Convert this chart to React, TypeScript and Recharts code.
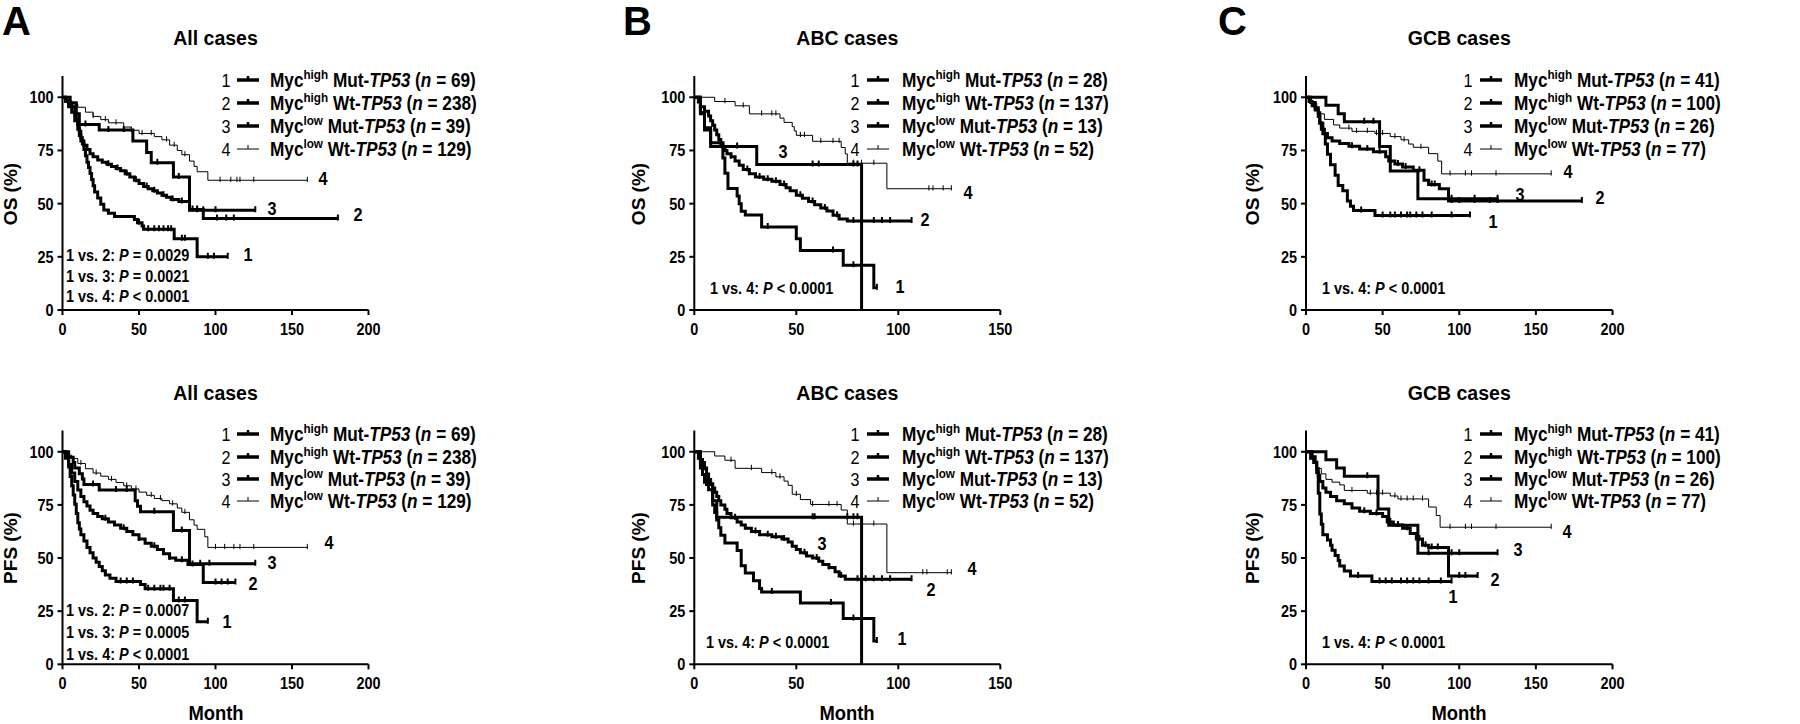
import React from 'react';
import { ComposedChart, Line, XAxis, YAxis } from 'recharts';

type Pt = [number, number];

const FONT = '"Liberation Sans", Arial, Helvetica, sans-serif';

// axis ticks
const ticks200 = [0, 50, 100, 150, 200];
const ticks150 = [0, 50, 100, 150];
const yTicks = [0, 25, 50, 75, 100];

// legend pieces and group sizes
const legendSup = ['high', 'high', 'low', 'low'];
const legendPrefix = ['Mut-', 'Wt-', 'Mut-', 'Wt-'];
const nAll = [69, 238, 39, 129];
const nAbc = [28, 137, 13, 52];
const nGcb = [41, 100, 26, 77];

// ---- OS, all cases ---- [month, survival %]
const osAll1: Pt[] = [[0, 100], [2, 98.5], [4, 97], [6, 95.5], [8, 92.5], [9, 89.8], [10, 87], [11, 84], [12, 81], [13, 78], [14, 75.4], [15, 72.5], [16, 69.5], [17, 67], [18, 64.2], [19, 61.3], [20, 58.4], [21, 55.5], [23, 52.6], [25, 49.7], [27, 47], [30, 45.5], [34, 44], [47, 42.5], [49, 41], [52, 39.5], [53, 38], [73, 33.5], [88, 25], [108, 25]];
const osAll1C = [50, 56, 60, 63, 66, 69, 71, 78, 80, 95, 99, 108];
const osAll2: Pt[] = [[0, 100], [2, 98], [4, 95.5], [6, 93], [8, 89], [10, 85], [11, 82], [12, 79.5], [14, 77.5], [16, 75.5], [18, 73.5], [20, 72], [23, 70.5], [26, 69.5], [29, 68.5], [32, 67.5], [35, 66.5], [38, 65.5], [41, 64], [44, 62.5], [47, 61], [50, 59.5], [53, 58], [56, 57], [59, 56], [62, 55], [65, 54], [68, 53], [71, 52], [76, 51], [83, 47.3], [92, 43], [180, 43]];
const osAll2C = [30, 36, 42, 48, 55, 60, 66, 72, 78, 85, 88, 101, 107, 112, 180];
const osAll3: Pt[] = [[0, 100], [5, 97.4], [9, 92.3], [11, 87.2], [24, 84.6], [46, 79.5], [55, 74], [58, 69.2], [72.5, 62.5], [83, 46.9], [126, 46.9]];
const osAll3C = [15, 30, 40, 62, 76, 88, 92, 100, 126];
const osAll4: Pt[] = [[0, 100], [3, 98.4], [6, 96.9], [10, 95.3], [15, 93], [20, 91], [25, 89.5], [30, 88], [40, 86], [45, 84.5], [50, 83], [60, 81.5], [65, 80], [70, 77.5], [75, 75], [78, 73], [83, 70], [86, 67.5], [88, 65], [95, 61], [160, 61]];
const osAll4C = [20, 28, 35, 45, 52, 58, 68, 73, 80, 103, 110, 114, 116, 125, 160];

// ---- PFS, all cases ----
const pfsAll1: Pt[] = [[0, 100], [2, 97], [4, 92.8], [5, 88.4], [6, 84], [7, 79.7], [8, 75.3], [9, 70.9], [10, 66.6], [11, 63.6], [12, 61], [14, 58], [16, 55], [18, 52.5], [20, 50], [22, 48], [24, 46], [26, 44], [28, 42], [31, 40.5], [35, 39], [51, 37.5], [54, 35.5], [72.5, 30], [88, 20], [95, 20]];
const pfsAll1C = [38, 42, 46, 56, 60, 64, 66, 70, 76, 80, 95];
const pfsAll2: Pt[] = [[0, 100], [2, 97.5], [4, 94], [6, 90], [8, 86], [10, 82], [12, 79], [14, 76.5], [16, 74.5], [18, 72.5], [20, 71], [23, 69.5], [26, 68.5], [30, 67], [34, 65.5], [38, 64], [42, 62.5], [46, 61], [50, 59], [54, 57], [58, 55.5], [62, 54], [66, 52], [70, 50], [74, 49], [82, 47], [92, 38.5], [113, 38.5]];
const pfsAll2C = [28, 40, 50, 60, 70, 78, 85, 100, 104, 108, 113];
const pfsAll3: Pt[] = [[0, 100], [4, 97.4], [7, 94.9], [8, 92.3], [11, 89.7], [13, 87.2], [14, 84.6], [24, 82], [47.5, 76.9], [49, 74.4], [51, 71.8], [72.5, 63], [83, 47.3], [126, 47.3]];
const pfsAll3C = [20, 35, 42, 60, 78, 90, 96, 126];
const pfsAll4: Pt[] = [[0, 100], [3, 98.4], [6, 96.8], [10, 94.5], [15, 92], [20, 90], [25, 88.5], [30, 87], [35, 85.5], [40, 84], [45, 82.5], [50, 81], [55, 79.5], [60, 78], [65, 77], [70, 75.5], [75, 73.5], [78, 71.5], [83, 68], [86, 65.5], [88, 63.5], [93, 60], [95, 55], [160, 55]];
const pfsAll4C = [12, 22, 32, 42, 48, 58, 64, 72, 80, 100, 106, 112, 116, 125, 160];

// ---- OS, ABC ----
const osAbc1: Pt[] = [[0, 100], [3, 92.9], [5, 85.7], [8, 78.6], [14, 71.4], [15, 64.3], [16.5, 57.1], [21, 53.6], [22, 50], [23, 46.4], [25, 44.6], [33, 39], [50, 33.5], [52, 28], [73, 21], [88, 10.5], [89.5, 10.5]];
const osAbc1C = [36, 68, 78, 89.5];
const osAbc2: Pt[] = [[0, 100], [2, 97.8], [3, 95.6], [5, 93.4], [7, 91.2], [8, 89], [9, 86.8], [10, 84.6], [11, 82.4], [12, 80.2], [13, 78], [14, 76.5], [15, 75], [16, 73.5], [18, 72], [20, 70], [22, 68], [24, 66], [27, 64], [30, 62.5], [34, 61.5], [38, 60.5], [42, 59], [45, 57.5], [47, 56], [50, 54], [53, 52.5], [56, 51], [59, 49.5], [62, 48], [65, 46.5], [68, 44.5], [71, 42.8], [75, 41.8], [106.5, 41.8]];
const osAbc2C = [18, 26, 32, 36, 40, 44, 52, 58, 64, 70, 78, 82, 88, 92, 96, 106.5];
const osAbc3: Pt[] = [[0, 100], [3, 92.3], [5, 84.6], [8, 76.9], [30.6, 68.4], [82, 0]];
const osAbc3C = [21, 58, 61, 78, 80];
const osAbc4: Pt[] = [[0, 100], [10, 98], [20, 96], [27, 92.2], [42, 90.2], [44, 88.2], [48, 86.2], [49, 84.2], [50, 82.1], [58, 79.3], [72, 76.4], [74, 73.4], [75, 69], [94.4, 57], [126, 57]];
const osAbc4C = [15, 24, 33, 38, 40, 52, 54, 62, 68, 71, 78, 82, 88, 115, 117, 122, 126];

// ---- PFS, ABC ----
const pfsAbc1: Pt[] = [[0, 100], [3, 96.4], [4, 89.3], [5, 85.7], [7, 82.1], [9, 75], [10, 71.4], [11, 67.9], [12, 64.3], [13, 60.7], [15, 57.1], [21, 53.6], [23, 46.4], [25, 42.9], [29, 39.3], [32, 35.7], [33, 34], [52, 28.8], [73, 21.5], [88, 11], [89.5, 11]];
const pfsAbc1C = [38, 67, 78, 89.5];
const pfsAbc2: Pt[] = [[0, 100], [2, 97], [3, 95], [5, 92], [6, 89.5], [7, 87], [8, 85], [9, 83], [10, 81], [11, 79], [12, 77], [13, 75], [15, 73], [16, 71], [18, 69], [21, 67], [23, 65.5], [25, 64], [28, 62.5], [32, 61], [38, 60], [43, 59], [46, 57.5], [48, 55.5], [50, 54], [52, 52.5], [55, 51], [58, 50], [61, 48.5], [63, 47], [66, 45.5], [69, 43.5], [71, 41.5], [74, 40], [106.5, 40]];
const pfsAbc2C = [20, 30, 36, 40, 44, 54, 60, 66, 72, 80, 84, 88, 92, 96, 106.5];
const pfsAbc3: Pt[] = [[0, 100], [3, 92.3], [6, 84.6], [9, 76.9], [11, 69.2], [82, 0]];
const pfsAbc3C = [58, 59, 75, 78, 80];
const pfsAbc4: Pt[] = [[0, 100], [10, 98], [15, 96], [20, 92.2], [33, 90.2], [40, 88.2], [44, 86.2], [46, 84.2], [48, 80], [52, 77.5], [57, 75.2], [72, 72.6], [75, 66], [94.4, 43.1], [126, 43.1]];
const pfsAbc4C = [18, 28, 38, 42, 50, 58, 66, 70, 78, 82, 88, 112, 114, 124, 126];

// ---- OS, GCB ----
const osGcb1: Pt[] = [[0, 100], [3, 97.6], [6, 95.1], [8, 92.7], [9, 87.8], [11, 82.9], [12.6, 78], [14, 73.2], [16, 68.3], [19, 63.4], [21, 58.5], [24, 56], [27, 51.2], [29, 48.8], [31, 46.8], [45, 44.4], [107, 44.4]];
const osGcb1C = [36, 50, 55, 58, 62, 66, 68, 72, 76, 82, 95, 107];
const osGcb2: Pt[] = [[0, 100], [2, 98], [4, 96], [6, 94], [8, 91], [9, 88], [10, 85], [12, 83], [14, 81], [17, 79.5], [22, 78.3], [28, 77], [35, 75.7], [44, 74.4], [52, 72], [54, 70], [58, 68.6], [63, 67.2], [70, 65.7], [77, 61], [80, 59], [87, 57], [93, 51.2], [180, 51.2]];
const osGcb2C = [30, 40, 48, 60, 65, 74, 82, 84, 95, 100, 110, 120, 125, 180];
const osGcb3: Pt[] = [[0, 100], [13, 96.2], [21, 92.3], [25, 88.5], [48, 76.9], [55, 65.4], [73, 52.3], [125, 52.3]];
const osGcb3C = [38, 44, 95, 110, 125];
const osGcb4: Pt[] = [[0, 100], [3, 97.4], [7, 94.8], [8, 92.2], [12, 89.6], [18, 87], [22, 85.5], [30, 84], [45, 83], [55, 81.5], [62, 80], [67, 78], [70, 76.5], [80, 73.5], [86, 70], [88.5, 64], [160, 64]];
const osGcb4C = [28, 33, 40, 46, 50, 58, 64, 75, 94, 104, 108, 124, 160];

// ---- PFS, GCB ----
const pfsGcb1: Pt[] = [[0, 100], [4, 97.6], [6, 95.1], [7, 90.2], [8, 80.5], [9, 70.7], [10, 65.9], [11, 61], [14, 58.5], [16, 56], [17, 53.7], [19, 51.2], [21, 48.8], [22, 46.3], [25, 43.9], [29, 41.5], [43, 39], [95, 39]];
const pfsGcb1C = [34, 48, 52, 56, 62, 66, 70, 74, 80, 88, 95];
const pfsGcb2: Pt[] = [[0, 100], [3, 97], [5, 95], [7, 92], [8, 89], [9, 86], [11, 83], [13, 81], [16, 79], [20, 77], [25, 75.5], [30, 73.5], [35, 72], [42, 71], [50, 69.5], [53, 67], [57, 65.5], [63, 64], [68, 61.5], [72, 59], [76, 56], [80, 55], [93, 41.5], [112, 41.5]];
const pfsGcb2C = [38, 46, 55, 60, 66, 74, 78, 82, 86, 100, 104, 112];
const pfsGcb3: Pt[] = [[0, 100], [13, 96.2], [20, 92.3], [25, 88.5], [47, 73.1], [54, 65.4], [73, 52.3], [125, 52.3]];
const pfsGcb3C = [40, 80, 95, 100, 125];
const pfsGcb4: Pt[] = [[0, 100], [3, 97.4], [5, 94.8], [7, 92.2], [10, 89.6], [13, 87], [17, 85.7], [22, 84.4], [25, 81.8], [40, 80.5], [55, 79.2], [60, 77.8], [80, 74], [85, 70], [87.5, 64.5], [160, 64.5]];
const pfsGcb4C = [30, 42, 46, 50, 58, 62, 66, 70, 76, 94, 104, 108, 124, 160];

function survAt(steps: Pt[], t: number) {
  let s = steps[0][1];
  for (const [st, sv] of steps) if (st <= t) s = sv;
  return s;
}

function buildRows(steps: Pt[], cens: number[]) {
  const rows = steps.map(([t, s]) => ({ t, s, c: 0 }));
  cens.forEach((t) => rows.push({ t, s: survAt(steps, t), c: 1 }));
  return rows.sort((a, b) => a.t - b.t || b.s - a.s);
}

// censored subjects: small vertical tick on the curve
const censorDot = (w: number, h: number) => (props: any) => {
  const { cx, cy, payload, index } = props;
  if (!payload || !payload.c) return <g key={`d${index}`} />;
  return <line key={`d${index}`} x1={cx} x2={cx} y1={cy - h} y2={cy + h * 0.5} stroke="#000" strokeWidth={w} />;
};

// tick labels in the reference are tall and narrow
const CondTick = (props: any) => {
  const { x, y, payload, textAnchor, axis } = props;
  return (
    <text
      transform={`translate(${x},${y}) scale(0.85,1)`}
      textAnchor={textAnchor}
      dy={axis === 'x' ? '0.71em' : '0.355em'}
      fill="#000"
      fontSize={17}
      fontWeight="bold"
      fontFamily={FONT}
    >
      {payload.value}
    </text>
  );
};

const TOP_ROW = { plotTop: 76, plotBottom: 310, legendY: [80, 103, 126, 149] };
const BOTTOM_ROW = { plotTop: 68.5, plotBottom: 302.3, legendY: [72, 95, 117, 139] };

const panels = [
  {
    key: 'osAll', col: 0, row: 0, letter: 'A', title: 'All cases', yLabel: 'OS (%)', xMax: 200, xTicks: ticks200,
    curves: [[osAll1, osAll1C], [osAll2, osAll2C], [osAll3, osAll3C], [osAll4, osAll4C]] as [Pt[], number[]][], n: nAll,
    pvals: ['2: ', '3: ', '4: '], pvalVals: ['= 0.0029', '= 0.0021', '< 0.0001'], pvalX: 66, pvalY: [255, 276, 296],
    labels: [[248, 255], [358, 215], [272, 209], [323, 179]],
  },
  {
    key: 'osAbc', col: 1, row: 0, letter: 'B', title: 'ABC cases', yLabel: 'OS (%)', xMax: 150, xTicks: ticks150,
    curves: [[osAbc1, osAbc1C], [osAbc2, osAbc2C], [osAbc3, osAbc3C], [osAbc4, osAbc4C]] as [Pt[], number[]][], n: nAbc,
    pvals: ['4: '], pvalVals: ['< 0.0001'], pvalX: 110, pvalY: [288],
    labels: [[300, 287], [325, 220], [183, 152], [368, 193]],
  },
  {
    key: 'osGcb', col: 2, row: 0, letter: 'C', title: 'GCB cases', yLabel: 'OS (%)', xMax: 200, xTicks: ticks200,
    curves: [[osGcb1, osGcb1C], [osGcb2, osGcb2C], [osGcb3, osGcb3C], [osGcb4, osGcb4C]] as [Pt[], number[]][], n: nGcb,
    pvals: ['4: '], pvalVals: ['< 0.0001'], pvalX: 122, pvalY: [288],
    labels: [[293, 222], [400, 198], [320, 195], [368, 172]],
  },
  {
    key: 'pfsAll', col: 0, row: 1, letter: '', title: 'All cases', yLabel: 'PFS (%)', xMax: 200, xTicks: ticks200,
    curves: [[pfsAll1, pfsAll1C], [pfsAll2, pfsAll2C], [pfsAll3, pfsAll3C], [pfsAll4, pfsAll4C]] as [Pt[], number[]][], n: nAll,
    pvals: ['2: ', '3: ', '4: '], pvalVals: ['= 0.0007', '= 0.0005', '< 0.0001'], pvalX: 66, pvalY: [248, 270, 292],
    labels: [[227, 260], [253, 222], [272, 201], [329, 181]],
  },
  {
    key: 'pfsAbc', col: 1, row: 1, letter: '', title: 'ABC cases', yLabel: 'PFS (%)', xMax: 150, xTicks: ticks150,
    curves: [[pfsAbc1, pfsAbc1C], [pfsAbc2, pfsAbc2C], [pfsAbc3, pfsAbc3C], [pfsAbc4, pfsAbc4C]] as [Pt[], number[]][], n: nAbc,
    pvals: ['4: '], pvalVals: ['< 0.0001'], pvalX: 106, pvalY: [280],
    labels: [[302, 277], [331, 228], [222, 182], [372, 207]],
  },
  {
    key: 'pfsGcb', col: 2, row: 1, letter: '', title: 'GCB cases', yLabel: 'PFS (%)', xMax: 200, xTicks: ticks200,
    curves: [[pfsGcb1, pfsGcb1C], [pfsGcb2, pfsGcb2C], [pfsGcb3, pfsGcb3C], [pfsGcb4, pfsGcb4C]] as [Pt[], number[]][], n: nGcb,
    pvals: ['4: '], pvalVals: ['< 0.0001'], pvalX: 122, pvalY: [280],
    labels: [[253, 235], [295, 218], [318, 188], [367, 170]],
  },
];

// per column layout (panel-local px)
const colLayout = [
  { plotLeft: 62.5, plotW: 306, yLabelX: 10, letterX: 2, lgNum: 226, lgLine: 237, lgText: 270 },
  { plotLeft: 94.3, plotW: 306, yLabelX: 38, letterX: 23, lgNum: 255, lgLine: 267, lgText: 302 },
  { plotLeft: 106, plotW: 306.5, yLabelX: 52, letterX: 18, lgNum: 268, lgLine: 280, lgText: 314 },
];

const Txt = ({ x, y, size, weight = 'bold', left = false, rotate = false, sx = 1, children }: any) => (
  <div
    style={{
      position: 'absolute', left: x, top: y, fontSize: size, fontWeight: weight, lineHeight: 1,
      whiteSpace: 'nowrap', color: '#000',
      transformOrigin: left ? 'left center' : 'center',
      transform: `translate(${left ? '0' : '-50%'}, -50%)${rotate ? ' rotate(-90deg)' : ''} scale(${sx}, 1)`,
    }}
  >
    {children}
  </div>
);

const YAXIS_W = 50;
const XAXIS_H = 30;

function Panel({ p }: { p: (typeof panels)[number] }) {
  const lay = colLayout[p.col];
  const rowCfg = p.row === 0 ? TOP_ROW : BOTTOM_ROW;
  const margin = {
    top: rowCfg.plotTop,
    bottom: 362 - rowCfg.plotBottom - XAXIS_H,
    left: lay.plotLeft - YAXIS_W,
    right: 600 - lay.plotLeft - lay.plotW,
  };
  const axisStyle = { stroke: '#000', strokeWidth: 2 };
  const plotCx = lay.plotLeft + lay.plotW / 2;
  return (
    <div style={{ position: 'absolute', left: p.col * 600, top: p.row * 362, width: 600, height: 362 }}>
      <ComposedChart width={600} height={362} margin={margin}>
        <XAxis
          type="number" dataKey="t" domain={[0, p.xMax]} ticks={p.xTicks} height={XAXIS_H}
          axisLine={axisStyle} tickLine={axisStyle} tickSize={5} tickMargin={8}
          tick={(props: any) => <CondTick {...props} axis="x" />}
          allowDataOverflow
        />
        <YAxis
          type="number" dataKey="s" domain={[0, 110]} ticks={yTicks} width={YAXIS_W}
          axisLine={axisStyle} tickLine={axisStyle} tickSize={5} tickMargin={4}
          tick={(props: any) => <CondTick {...props} axis="y" />}
          allowDataOverflow
        />
        {[3, 2, 1, 0].map((i) => {
          const [steps, cens] = p.curves[i];
          const w = i === 3 ? 1 : 3;
          return (
            <Line
              key={`${p.key}-${i}`}
              data={buildRows(steps, cens)}
              dataKey="s"
              type="stepAfter"
              stroke="#000"
              strokeWidth={w}
              dot={censorDot(i === 3 ? 1 : 2, i === 3 ? 3.5 : 4)}
              activeDot={false}
              isAnimationActive={false}
            />
          );
        })}
      </ComposedChart>

      {p.letter && <Txt x={lay.letterX} y={21} size={40} left>{p.letter}</Txt>}
      <Txt x={plotCx} y={p.row === 0 ? 39 : 32} size={19.5}>{p.title}</Txt>
      <Txt x={lay.yLabelX} y={(rowCfg.plotTop + rowCfg.plotBottom) / 2 + 1} size={19} rotate>{p.yLabel}</Txt>
      {p.row === 1 && <Txt x={plotCx} y={351} size={20} sx={0.92}>Month</Txt>}

      {rowCfg.legendY.map((y, i) => (
        <React.Fragment key={`lg${i}`}>
          <Txt x={lay.lgNum} y={y} size={19} weight="normal" sx={0.85}>{i + 1}</Txt>
          <svg style={{ position: 'absolute', left: lay.lgLine, top: y - 6 }} width={22} height={12}>
            <line x1={0} x2={22} y1={6} y2={6} stroke="#000" strokeWidth={i === 3 ? 1 : 3.5} />
            <line x1={11} x2={11} y1={2} y2={6} stroke="#000" strokeWidth={i === 3 ? 1 : 2.5} />
          </svg>
          <Txt x={lay.lgText} y={y} size={20} left sx={0.86}>
            Myc<span style={{ fontSize: '0.68em', verticalAlign: '0.6em', lineHeight: 0 }}>{legendSup[i]}</span>{' '}
            {legendPrefix[i]}<i>TP53</i> (<i>n</i> = {p.n[i]})
          </Txt>
        </React.Fragment>
      ))}

      {p.pvals.map((v, i) => (
        <Txt key={`pv${i}`} x={p.pvalX} y={p.pvalY[i]} size={17} left sx={0.85}>
          1 vs. {v}<i>P</i> {p.pvalVals[i]}
        </Txt>
      ))}

      {p.labels.map(([x, y], i) => (
        <Txt key={`cl${i}`} x={x} y={y} size={18} sx={0.9}>{i + 1}</Txt>
      ))}
    </div>
  );
}

export default function App() {
  return (
    <div
      style={{
        position: 'absolute', left: 0, top: 0, width: 1800, height: 724, background: '#fff',
        fontFamily: FONT, overflow: 'hidden',
      }}
    >
      {panels.map((p) => (
        <Panel key={p.key} p={p} />
      ))}
    </div>
  );
}
